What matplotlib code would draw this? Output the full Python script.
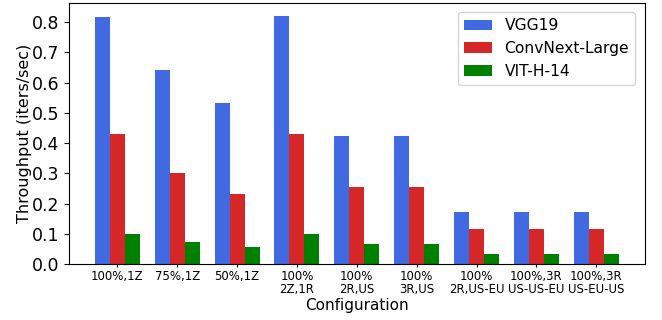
import numpy as np
import matplotlib.pyplot as plt

configs = ['100%,1Z', '75%,1Z', '50%,1Z', '100%\n2Z,1R', '100%\n2R,US',
           '100%\n3R,US', '100%\n2R,US-EU', '100%,3R\nUS-US-EU', '100%,3R\nUS-EU-US']
vgg19 = [0.817, 0.643, 0.532, 0.821, 0.423, 0.423, 0.172, 0.172, 0.172]
convnext = [0.429, 0.300, 0.232, 0.430, 0.256, 0.256, 0.116, 0.116, 0.116]
vit = [0.100, 0.072, 0.055, 0.100, 0.065, 0.065, 0.032, 0.032, 0.032]

x = np.arange(len(configs))
w = 0.25

fig, ax = plt.subplots(figsize=(6.62, 3.2), dpi=100)
ax.bar(x - w, vgg19, w, color='royalblue', label='VGG19')
ax.bar(x, convnext, w, color='tab:red', label='ConvNext-Large')
ax.bar(x + w, vit, w, color='green', label='VIT-H-14')

ax.set_xticks(x)
ax.set_xticklabels(configs, fontsize=8.5, linespacing=1.0)
ax.tick_params(axis='x', length=2.5, pad=2)
ax.set_yticks(np.arange(0, 0.81, 0.1))
ax.tick_params(axis='y', labelsize=12.5)
ax.set_xlim(-0.81, len(configs) - 0.19)
ax.set_ylim(0, 0.864)
ax.set_ylabel('Throughput (iters/sec)', fontsize=11.5, labelpad=0)
ax.set_xlabel('Configuration', fontsize=11, labelpad=1)
ax.legend(fontsize=11.2, loc='upper right', handlelength=1.8, borderaxespad=0.6)

plt.subplots_adjust(left=0.104, right=0.974, top=0.991, bottom=0.175)
plt.savefig('out.png')
